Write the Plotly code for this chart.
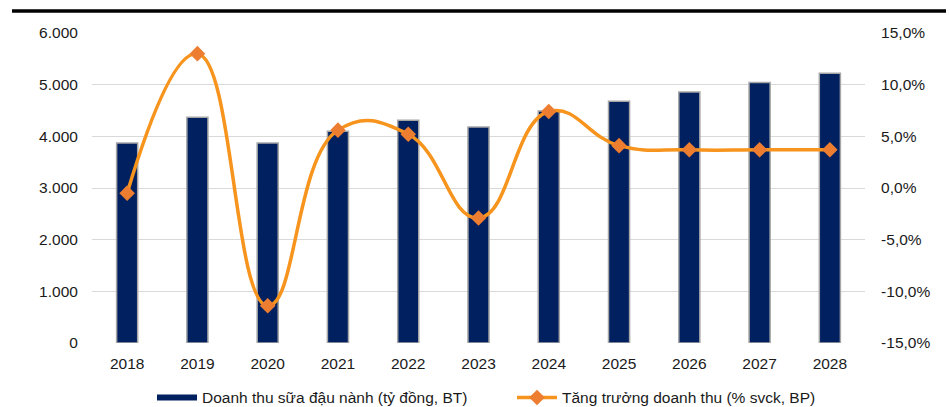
import plotly.graph_objects as go

# Soy milk revenue (billion VND) and year-on-year growth
years = ["2018", "2019", "2020", "2021", "2022", "2023", "2024", "2025", "2026", "2027", "2028"]
revenue = [3870, 4370, 3870, 4100, 4310, 4180, 4490, 4680, 4860, 5040, 5220]
growth = [-0.005, 0.130, -0.114, 0.056, 0.052, -0.029, 0.074, 0.041, 0.037, 0.037, 0.037]

left_ticks = [0, 1000, 2000, 3000, 4000, 5000, 6000]
right_ticks = [-0.15, -0.10, -0.05, 0.0, 0.05, 0.10, 0.15]
right_labels = ["-15,0%", "-10,0%", "-5,0%", "0,0%", "5,0%", "10,0%", "15,0%"]

bar_name = "Doanh thu sữa đậu nành (tỷ đồng, BT)"
line_name = "Tăng trưởng doanh thu (% svck, BP)"

NAVY = "#002060"
ORANGE = "#F7941D"
MARKER = "#ED7D31"
FONT = dict(family="Liberation Sans, Arial, sans-serif", size=15.5, color="#1a1a1a")

fig = go.Figure()

fig.add_trace(go.Bar(
    x=years, y=revenue, name=bar_name, showlegend=False,
    marker=dict(color=NAVY, line=dict(color="#A6A6A6", width=1.5)),
    width=0.3,
))

# legend entry for the bars drawn as a flat block
fig.add_trace(go.Scatter(
    x=[None], y=[None], mode="lines", name=bar_name,
    line=dict(color=NAVY, width=6),
))

fig.add_trace(go.Scatter(
    x=years, y=growth, name=line_name, yaxis="y2",
    mode="lines+markers",
    line=dict(color=ORANGE, width=3.5, shape="spline", smoothing=1.3),
    marker=dict(symbol="diamond", size=12, color=MARKER),
))

fig.update_layout(
    width=950, height=407,
    margin=dict(l=92, r=85, t=33, b=64, autoexpand=False),
    paper_bgcolor="white", plot_bgcolor="white",
    font=FONT,
    separators=",.",
    xaxis=dict(
        type="category", range=[-0.5, 10.5],
        showgrid=False, zeroline=False, showline=False,
        ticks="outside", ticklen=6, tickcolor="rgba(0,0,0,0)",
        tickfont=FONT,
    ),
    yaxis=dict(
        range=[0, 6000], tickvals=left_ticks, tickformat=",.0f",
        showgrid=True, gridcolor="#D9D9D9", gridwidth=1,
        zeroline=False, showline=False,
        ticks="outside", ticklen=10, tickcolor="rgba(0,0,0,0)",
        tickfont=FONT,
    ),
    yaxis2=dict(
        range=[-0.15, 0.15], overlaying="y", side="right",
        tickvals=right_ticks, ticktext=right_labels,
        showgrid=False, zeroline=False, showline=False,
        ticks="outside", ticklen=12, tickcolor="rgba(0,0,0,0)",
        tickfont=FONT,
    ),
    legend=dict(
        orientation="h", x=(152 - 92) / 773, xanchor="left", y=-0.177, yanchor="middle",
        font=FONT, itemwidth=40, entrywidth=305, entrywidthmode="pixels",
        bgcolor="rgba(0,0,0,0)",
    ),
    shapes=[
        dict(type="line", xref="paper", yref="paper",
             x0=-0.1035, x1=1.1048, y0=1.071, y1=1.071,
             line=dict(color="black", width=3.5)),
    ],
)

fig.write_html("out.html")
